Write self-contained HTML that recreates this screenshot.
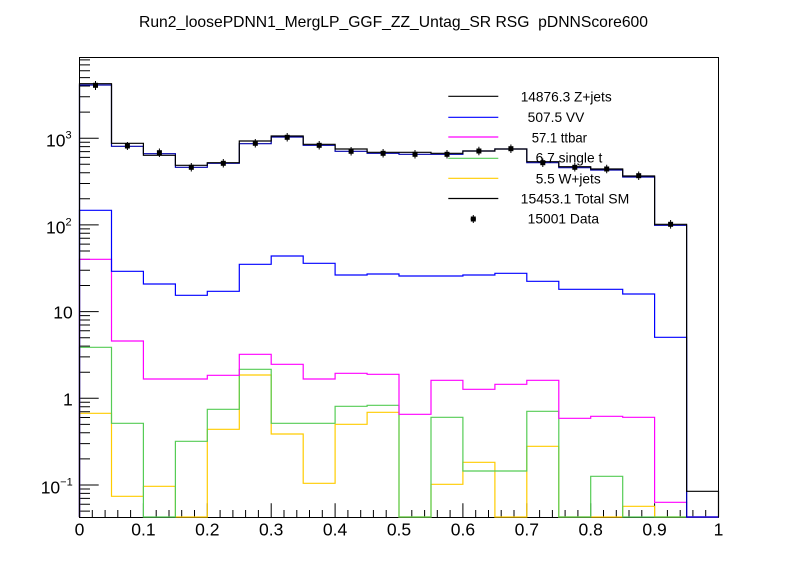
<!DOCTYPE html>
<html>
<head>
<meta charset="utf-8">
<style>
  html,body{margin:0;padding:0;background:#fff;}
  svg{display:block;}
  text{font-family:"Liberation Sans",Arial,Helvetica,sans-serif;fill:#000;}
</style>
</head>
<body>
<svg width="798" height="575" viewBox="0 0 798 575" xmlns="http://www.w3.org/2000/svg">
  <rect x="0" y="0" width="798" height="575" fill="#fff"/>

  <!-- Title -->
  <text x="393.5" y="27" font-size="15.7" text-anchor="middle" style="white-space:pre" textLength="509" lengthAdjust="spacingAndGlyphs">Run2_loosePDNN1_MergLP_GGF_ZZ_Untag_SR RSG  pDNNScore600</text>

  <!-- Frame -->
  <rect x="79.5" y="57.5" width="639" height="460" fill="none" stroke="#000" stroke-width="1"/>

  <!-- Y ticks -->
  <path stroke="#000" stroke-width="1" fill="none" d="
    M79.5,485H98.7 M79.5,398.3H98.7 M79.5,311.6H98.7 M79.5,224.9H98.7 M79.5,138.2H98.7
    M79.5,511.1H90 M79.5,504.2H90 M79.5,498.4H90 M79.5,493.4H90 M79.5,489H90
    M79.5,458.9H90 M79.5,443.6H90 M79.5,432.8H90 M79.5,424.4H90 M79.5,417.5H90 M79.5,411.7H90 M79.5,406.7H90 M79.5,402.3H90
    M79.5,372.2H90 M79.5,356.9H90 M79.5,346.1H90 M79.5,337.7H90 M79.5,330.8H90 M79.5,325H90 M79.5,320H90 M79.5,315.6H90
    M79.5,285.5H90 M79.5,270.2H90 M79.5,259.4H90 M79.5,251H90 M79.5,244.1H90 M79.5,238.3H90 M79.5,233.3H90 M79.5,228.9H90
    M79.5,198.8H90 M79.5,183.5H90 M79.5,172.7H90 M79.5,164.3H90 M79.5,157.4H90 M79.5,151.6H90 M79.5,146.6H90 M79.5,142.2H90
    M79.5,112.1H90 M79.5,96.8H90 M79.5,86H90 M79.5,77.6H90 M79.5,70.7H90 M79.5,64.9H90 M79.5,59.9H90
  "/>

  <!-- X ticks -->
  <path stroke="#000" stroke-width="1" fill="none" d="
    M79.5,517V503.3 M143.4,517V503.3 M207.3,517V503.3 M271.2,517V503.3 M335.1,517V503.3 M399,517V503.3
    M462.9,517V503.3 M526.8,517V503.3 M590.7,517V503.3 M654.6,517V503.3 M718.5,517V503.3
    M92.3,517V510 M105.1,517V510 M117.8,517V510 M130.6,517V510
    M156.2,517V510 M169,517V510 M181.7,517V510 M194.5,517V510
    M220.1,517V510 M232.9,517V510 M245.6,517V510 M258.4,517V510
    M284,517V510 M296.8,517V510 M309.5,517V510 M322.3,517V510
    M347.9,517V510 M360.7,517V510 M373.4,517V510 M386.2,517V510
    M411.8,517V510 M424.6,517V510 M437.3,517V510 M450.1,517V510
    M475.7,517V510 M488.5,517V510 M501.2,517V510 M514,517V510
    M539.6,517V510 M552.4,517V510 M565.1,517V510 M577.9,517V510
    M603.5,517V510 M616.3,517V510 M629,517V510 M641.8,517V510
    M667.4,517V510 M680.2,517V510 M692.9,517V510 M705.7,517V510
  "/>

  <!-- X labels -->
  <g font-size="17.5" text-anchor="middle">
    <text x="79.5" y="535.7">0</text>
    <text x="143.4" y="535.7">0.1</text>
    <text x="207.3" y="535.7">0.2</text>
    <text x="271.2" y="535.7">0.3</text>
    <text x="335.1" y="535.7">0.4</text>
    <text x="399" y="535.7">0.5</text>
    <text x="462.9" y="535.7">0.6</text>
    <text x="526.8" y="535.7">0.7</text>
    <text x="590.7" y="535.7">0.8</text>
    <text x="654.6" y="535.7">0.9</text>
    <text x="718.5" y="535.7">1</text>
  </g>

  <!-- Y labels -->
  <g font-size="17.5">
    <text x="46" y="146.7">10<tspan font-size="11" dy="-8">3</tspan></text>
    <text x="46" y="233.3">10<tspan font-size="11" dy="-8">2</tspan></text>
    <text x="72.7" y="318.3" text-anchor="end">10</text>
    <text x="72.7" y="405.5" text-anchor="end">1</text>
    <text x="40.7" y="493.5">10<tspan font-size="11" dy="-8">−1</tspan></text>
  </g>

  <!-- Histograms -->
  <g fill="none" stroke-width="1.2">
    <!-- W+jets (yellow) -->
    <path stroke="#ffcc00" d="M79.5,517V413.3H111.5V496.3H143.4V486.3H175.4V517H207.3V429.3H239.3V375H271.2V434H303.2V483.3H335.1V424.3H367.1V412.3H399V517H431V484.3H462.9V462.3H494.9V517H526.8V446.3H558.8V517H590.7V517H622.7V506.3H654.6V517H686.6V517H718.5V517"/>
    <!-- single t (green) -->
    <path stroke="#55cc55" d="M79.5,517V347.3H111.5V423.3H143.4V517H175.4V441.3H207.3V409.3H239.3V369.3H271.2V423.3H303.2V423.3H335.1V406.3H367.1V405.3H399V517H431V417.3H462.9V471H494.9V471H526.8V411.3H558.8V517H590.7V476.3H622.7V517H654.6V517H686.6V517H718.5V517"/>
    <!-- ttbar (magenta) -->
    <path stroke="#ff00ff" d="M79.5,517V259.3H111.5V341H143.4V379H175.4V379H207.3V375.3H239.3V354.3H271.2V364.3H303.2V379H335.1V373.3H367.1V374.3H399V414.3H431V380.3H462.9V389.3H494.9V384.3H526.8V380.3H558.8V418.3H590.7V416.3H622.7V417.3H654.6V502.3H686.6V517H718.5"/>
    <!-- VV (blue) -->
    <path stroke="#0000ff" d="M79.5,517V210.3H111.5V271.3H143.4V284H175.4V295.3H207.3V291.3H239.3V264.3H271.2V256H303.2V263.3H335.1V275H367.1V274H399V276H431V276H462.9V275H494.9V273.3H526.8V281.3H558.8V289.3H590.7V289.3H622.7V294H654.6V337.3H686.6V517H718.5"/>
    <!-- Z+jets (dark blue) -->
    <path stroke="#0000aa" d="M79.5,517V85H111.5V146.3H143.4V153.7H175.4V167.3H207.3V163.3H239.3V143.7H271.2V137H303.2V145.3H335.1V151.3H367.1V153.3H399V154.3H431V154.3H462.9V151H494.9V149H526.8V162.7H558.8V167.7H590.7V170H622.7V177H654.6V225.3H686.6V517"/>
    <!-- Total SM (black) -->
    <path stroke="#000" d="M79.5,517V83.7H111.5V143.3H143.4V155.3H175.4V165.3H207.3V162.7H239.3V141H271.2V136H303.2V144.3H335.1V149H367.1V152.3H399V152.3H431V153.3H462.9V151H494.9V149H526.8V161.7H558.8V166.7H590.7V169H622.7V176H654.6V224.3H686.6V491.3H718.5V517"/>
  </g>

  <!-- Data -->
  <g fill="#000" stroke="#000" stroke-width="1">
    <path d="M95.5,81V90 M127.4,142V150 M159.4,148.5V157 M191.3,163V171.5 M223.3,159V167.5 M255.3,139V147.5 M287.2,133V141.5 M319.2,141V149.5 M351.1,147V155.5 M383.1,149V157.5 M415,150V158.5 M447,150V158.5 M478.9,146.7V155.3 M510.9,144.5V153 M542.8,158.5V167 M574.8,163V171.5 M606.7,164.8V173.3 M638.7,171.5V180 M670.6,220V228.6"/>
    <rect x="93" y="82.8" width="5" height="5" stroke="none"/>
    <rect x="124.9" y="143.5" width="5" height="5" stroke="none"/>
    <rect x="156.9" y="150.2" width="5" height="5" stroke="none"/>
    <rect x="188.8" y="164.8" width="5" height="5" stroke="none"/>
    <rect x="220.8" y="160.8" width="5" height="5" stroke="none"/>
    <rect x="252.8" y="140.8" width="5" height="5" stroke="none"/>
    <rect x="284.7" y="134.8" width="5" height="5" stroke="none"/>
    <rect x="316.7" y="142.8" width="5" height="5" stroke="none"/>
    <rect x="348.6" y="148.8" width="5" height="5" stroke="none"/>
    <rect x="380.6" y="150.8" width="5" height="5" stroke="none"/>
    <rect x="412.5" y="151.8" width="5" height="5" stroke="none"/>
    <rect x="444.5" y="151.8" width="5" height="5" stroke="none"/>
    <rect x="476.4" y="148.5" width="5" height="5" stroke="none"/>
    <rect x="508.4" y="146.2" width="5" height="5" stroke="none"/>
    <rect x="540.3" y="160.2" width="5" height="5" stroke="none"/>
    <rect x="572.3" y="164.8" width="5" height="5" stroke="none"/>
    <rect x="604.2" y="166.5" width="5" height="5" stroke="none"/>
    <rect x="636.2" y="173.2" width="5" height="5" stroke="none"/>
    <rect x="668.1" y="221.8" width="5" height="5" stroke="none"/>
  </g>

  <!-- Legend -->
  <g stroke-width="1.2">
    <line x1="448.3" y1="96.3" x2="498.3" y2="96.3" stroke="#000"/>
    <line x1="448.3" y1="117.3" x2="498.3" y2="117.3" stroke="#0000ff"/>
    <line x1="448.3" y1="137" x2="498.3" y2="137" stroke="#ff00ff"/>
    <line x1="448.3" y1="158.3" x2="498.3" y2="158.3" stroke="#55cc55"/>
    <line x1="448.3" y1="178.3" x2="498.3" y2="178.3" stroke="#ffcc00"/>
    <line x1="448.3" y1="198.5" x2="498.3" y2="198.5" stroke="#000"/>
  </g>
  <rect x="470.8" y="216.5" width="5" height="5" fill="#000"/>
  <line x1="470.5" y1="219" x2="476" y2="219" stroke="#000" stroke-width="1"/>
  <line x1="473.3" y1="215" x2="473.3" y2="223" stroke="#000" stroke-width="1"/>

  <g font-size="13.7">
    <text x="520.7" y="101.5" textLength="91" lengthAdjust="spacingAndGlyphs">14876.3 Z+jets</text>
    <text x="527.7" y="121.8" textLength="56.6" lengthAdjust="spacingAndGlyphs">507.5 VV</text>
    <text x="531.7" y="142.3" textLength="55.3" lengthAdjust="spacingAndGlyphs">57.1 ttbar</text>
    <text x="535.7" y="162.7" textLength="66.6" lengthAdjust="spacingAndGlyphs">6.7 single t</text>
    <text x="535.7" y="183.3" textLength="65" lengthAdjust="spacingAndGlyphs">5.5 W+jets</text>
    <text x="520.7" y="203.7" textLength="108.6" lengthAdjust="spacingAndGlyphs">15453.1 Total SM</text>
    <text x="527.7" y="223.7" textLength="71.3" lengthAdjust="spacingAndGlyphs">15001 Data</text>
  </g>
</svg>
</body>
</html>
